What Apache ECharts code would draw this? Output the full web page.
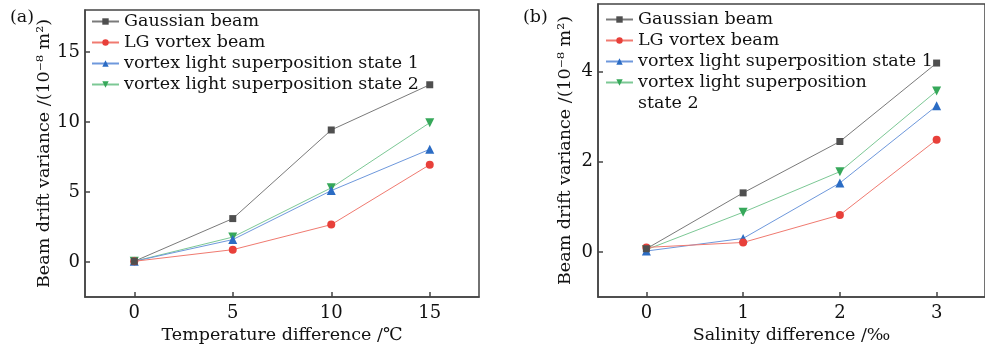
<!DOCTYPE html>
<html>
<head>
<meta charset="utf-8">
<script src="https://cdn.jsdelivr.net/npm/echarts@6/dist/echarts.min.js"></script>
<style>
html,body{margin:0;padding:0;background:#fff;}
#c{width:985px;height:350px;}
</style>
</head>
<body>
<div id="c"></div>
<script>
// ---- data ----
const seriesNames = ['Gaussian beam', 'LG vortex beam', 'vortex light superposition state 1', 'vortex light superposition state 2'];
const tempX = [0, 5, 10, 15];
const tempGaussian = [0.05, 3.1, 9.43, 12.66];
const tempLG = [0.05, 0.88, 2.67, 6.95];
const tempVS1 = [0.05, 1.6, 5.1, 8.05];
const tempVS2 = [0.05, 1.78, 5.3, 9.95];

const salX = [0, 1, 2, 3];
const salGaussian = [0.07, 1.31, 2.45, 4.19];
const salLG = [0.1, 0.21, 0.82, 2.49];
const salVS1 = [0.02, 0.3, 1.53, 3.24];
const salVS2 = [0.05, 0.88, 1.78, 3.57];

const tempXTicks = [0, 5, 10, 15];
const tempYTicks = [0, 5, 10, 15];
const salXTicks = [0, 1, 2, 3];
const salYTicks = [0, 2, 4];

const FONT = 'DejaVu Serif';
const markerColors = ['#4f4f4f', '#e8403a', '#2b6cc4', '#36a85a'];
const lineColors = ['#7a7a7a', '#f07a70', '#6e98dc', '#7cc895'];
const symbols = ['rect', 'circle', 'triangle', 'triangle'];
const symbolSizes = [7, 8, 9, 9];
const rotations = [0, 0, 0, 180];

function pairs(xs, ys) { return xs.map((x, i) => [x, ys[i]]); }

const tempSets = [tempGaussian, tempLG, tempVS1, tempVS2];
const salSets = [salGaussian, salLG, salVS1, salVS2];

const series = [];
tempSets.forEach((ys, i) => series.push({
  name: seriesNames[i], type: 'line', xAxisIndex: 0, yAxisIndex: 0,
  data: pairs(tempX, ys), symbol: symbols[i], symbolSize: symbolSizes[i], symbolRotate: rotations[i],
  itemStyle: { color: markerColors[i] }, lineStyle: { color: lineColors[i], width: 1 },
  z: 10 - i
}));
salSets.forEach((ys, i) => series.push({
  name: seriesNames[i], type: 'line', xAxisIndex: 1, yAxisIndex: 1,
  data: pairs(salX, ys), symbol: symbols[i], symbolSize: symbolSizes[i], symbolRotate: rotations[i],
  itemStyle: { color: markerColors[i] }, lineStyle: { color: lineColors[i], width: 1 },
  z: 10 - i
}));

const axisLine = { show: true, onZero: false, lineStyle: { color: '#444', width: 1.5 } };
const axisTickBase = { show: true, inside: true, length: 5, lineStyle: { color: '#444', width: 1.5 } };
const labelStyle = { color: '#111', fontFamily: FONT, fontSize: 18 };
const nameStyle = { color: '#111', fontFamily: FONT, fontSize: 17.5 };
const legendText = { color: '#111', fontFamily: FONT, fontSize: 17.5, lineHeight: 21 };

const chart = echarts.init(document.getElementById('c'), null, { renderer: 'canvas' });
chart.setOption({
  animation: false,
  backgroundColor: '#fff',
  grid: [
    { left: 85, top: 10, width: 394, height: 287, show: true, borderColor: '#444', borderWidth: 1.5, backgroundColor: 'transparent', containLabel: false },
    { left: 598, top: 4, width: 395, height: 293, show: true, borderColor: '#444', borderWidth: 1.5, backgroundColor: 'transparent', containLabel: false }
  ],
  xAxis: [
    { type: 'value', gridIndex: 0, min: -2.5, max: 17.5, splitLine: { show: false },
      axisLine: axisLine, axisTick: Object.assign({ customValues: tempXTicks }, axisTickBase),
      axisLabel: Object.assign({ customValues: tempXTicks, margin: 7 }, labelStyle),
      name: 'Temperature difference /℃', nameLocation: 'middle', nameGap: 26, nameTextStyle: nameStyle },
    { type: 'value', gridIndex: 1, min: -0.5, max: 3.5, splitLine: { show: false },
      axisLine: axisLine, axisTick: Object.assign({ customValues: salXTicks }, axisTickBase),
      axisLabel: Object.assign({ customValues: salXTicks, margin: 7 }, labelStyle),
      name: 'Salinity difference /‰', nameLocation: 'middle', nameGap: 26, nameTextStyle: nameStyle }
  ],
  yAxis: [
    { type: 'value', gridIndex: 0, min: -2.5, max: 18, splitLine: { show: false },
      axisLine: axisLine, axisTick: Object.assign({ customValues: tempYTicks }, axisTickBase),
      axisLabel: Object.assign({ customValues: tempYTicks, margin: 5 }, labelStyle),
      name: 'Beam drift variance /(10⁻⁸ m²)', nameLocation: 'middle', nameGap: 28, nameTextStyle: nameStyle },
    { type: 'value', gridIndex: 1, min: -1, max: 5.5, splitLine: { show: false },
      axisLine: axisLine, axisTick: Object.assign({ customValues: salYTicks }, axisTickBase),
      axisLabel: Object.assign({ customValues: salYTicks, margin: 5 }, labelStyle),
      name: 'Beam drift variance /(10⁻⁸ m²)', nameLocation: 'middle', nameGap: 24, nameTextStyle: nameStyle }
  ],
  legend: [
    { orient: 'vertical', left: 91, top: 11, padding: 0, itemGap: 0, itemWidth: 27, itemHeight: 8,
      data: seriesNames, textStyle: legendText, selectedMode: false },
    { orient: 'vertical', left: 605, top: 9, padding: 0, itemGap: 0, itemWidth: 27, itemHeight: 8,
      data: seriesNames, textStyle: legendText, selectedMode: false,
      formatter: function (name) { return name === seriesNames[3] ? 'vortex light superposition' : name; } }
  ],
  graphic: [
    { type: 'text', left: 10, top: 8, style: { text: '(a)', font: '17.5px "DejaVu Serif"', fill: '#111' } },
    { type: 'text', left: 523, top: 8, style: { text: '(b)', font: '17.5px "DejaVu Serif"', fill: '#111' } },
    { type: 'text', left: 638, top: 94, style: { text: 'state 2', font: '17.5px "DejaVu Serif"', fill: '#111' } }
  ],
  series: series
});
</script>
</body>
</html>
